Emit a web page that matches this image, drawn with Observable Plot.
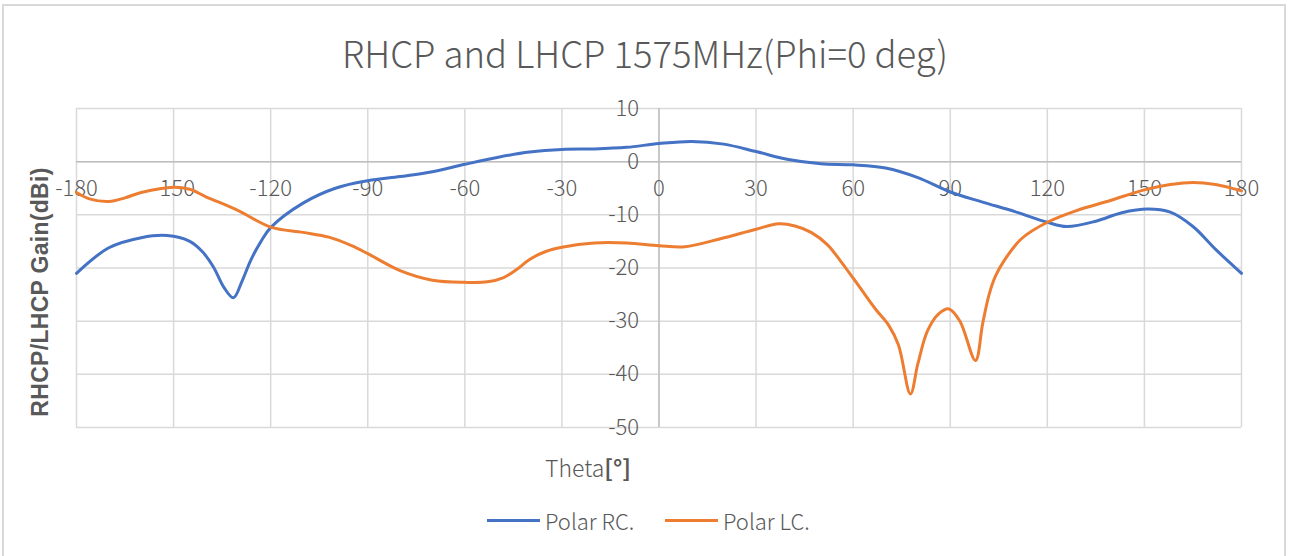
<!DOCTYPE html>
<html>
<head>
<meta charset="utf-8">
<script src="https://cdn.jsdelivr.net/npm/d3@7"></script>
<script src="https://cdn.jsdelivr.net/npm/@observablehq/plot@0.6"></script>
<style>
  html, body { margin: 0; padding: 0; background: #fff; }
  #wrap { position: relative; width: 1290px; height: 556px; overflow: hidden; font-family: "Noto Sans CJK SC", "Noto Sans", sans-serif; color: #595959; }
  #border { position: absolute; left: 2px; top: 4px; width: 1284px; height: 600px; border: 2px solid #d9d9d9; box-sizing: border-box; }
  #chart { position: absolute; left: 0; top: 0; }
  .abs { position: absolute; white-space: nowrap; }
  #title { left: 0; width: 1290px; top: 26px; text-align: center; font-size: 36.5px; font-weight: 300; }
  #ylab { left: 40px; top: 292px; font-family: "Liberation Sans", Arial, sans-serif; font-weight: bold; font-size: 23px; letter-spacing: 0.3px; transform: translate(-50%, -50%) rotate(-90deg); }
  #xlab { left: 588px; top: 467px; font-size: 23px; font-weight: 300; transform: translate(-50%, -50%); }
  #xlab b { font-weight: bold; }
  .leg { top: 504px; font-size: 22px; font-weight: 300; display: flex; align-items: center; }
  .sw { display: inline-block; width: 53px; height: 3px; margin-right: 5px; }
</style>
</head>
<body>
<div id="wrap">
  <div id="border"></div>
  <div id="chart"></div>
  <div class="abs" id="title">RHCP and LHCP 1575MHz(Phi=0 deg)</div>
  <div class="abs" id="ylab">RHCP/LHCP Gain(dBi)</div>
  <div class="abs" id="xlab">Theta<b>[°]</b></div>
  <div class="abs leg" id="leg1" style="left:487px"><span class="sw" style="background:#4472C4"></span>Polar RC.</div>
  <div class="abs leg" id="leg2" style="left:665px"><span class="sw" style="background:#ED7D31"></span>Polar LC.</div>
</div>
<script>
// Data
const xTicks = [-180, -150, -120, -90, -60, -30, 0, 30, 60, 90, 120, 150, 180];
const yTicks = [10, 0, -10, -20, -30, -40, -50];

const rcTheta = [-180, -170, -160, -152, -145, -141, -137.6, -134.5, -131.5, -128.8, -126.2, -123, -120, -110, -100, -90, -80, -70, -60, -50, -40, -30, -20, -10, 0, 10, 20, 30, 40, 50, 60, 70, 80, 90, 100, 110, 120, 126, 135, 143, 151, 158, 165, 172, 180];
const rcGain  = [-21, -16.2, -14.3, -13.9, -15.0, -17.0, -19.9, -23.6, -25.6, -22.4, -18.6, -15.0, -12.4, -7.8, -5.0, -3.6, -2.8, -1.9, -0.5, 0.8, 1.8, 2.3, 2.4, 2.7, 3.4, 3.8, 3.3, 1.9, 0.4, -0.4, -0.6, -1.2, -3.0, -5.7, -7.6, -9.4, -11.4, -12.2, -11.2, -9.6, -8.9, -9.5, -12.2, -16.5, -21];

const lcTheta = [-180, -176, -170, -165, -160, -150, -145, -140, -130, -120, -110, -102, -95, -90, -80, -70, -60, -53, -48, -44, -40, -35, -30, -20, -10, 0, 8, 19, 30, 37, 42, 47, 52, 56, 62, 67, 71, 74, 77.7, 80, 83, 86.5, 89.6, 93, 97.8, 100, 102, 104, 107, 112, 120, 129, 139.5, 150, 158, 165, 172, 180];
const lcGain  = [-5.8, -7.0, -7.5, -6.8, -5.8, -4.8, -5.2, -6.6, -9.2, -12.3, -13.3, -14.2, -15.8, -17.3, -20.5, -22.3, -22.7, -22.6, -21.8, -20.3, -18.4, -16.9, -16.1, -15.3, -15.3, -15.8, -16.0, -14.5, -12.7, -11.7, -12.1, -13.3, -15.6, -18.6, -23.6, -27.8, -30.8, -34.5, -43.7, -38.0, -31.8, -28.6, -27.7, -30.0, -37.4, -30.5, -25.0, -21.5, -18.3, -14.5, -11.4, -9.2, -7.3, -5.3, -4.3, -3.9, -4.3, -5.5];

const rc = rcTheta.map((t, i) => ({theta: t, gain: rcGain[i]}));
const lc = lcTheta.map((t, i) => ({theta: t, gain: lcGain[i]}));

const gridColor = "#d9d9d9";
const textColor = "#595959";

const chart = Plot.plot({
  width: 1290,
  height: 556,
  marginLeft: 76,
  marginRight: 49,
  marginTop: 108,
  marginBottom: 129,
  x: {domain: [-180, 180], axis: null},
  y: {domain: [-50, 10], axis: null},
  style: {background: "transparent", fontFamily: "'Noto Sans CJK SC', 'Noto Sans', sans-serif"},
  marks: [
    Plot.gridX(xTicks, {stroke: gridColor, strokeOpacity: 1, strokeWidth: 1.5}),
    Plot.gridY(yTicks, {stroke: gridColor, strokeOpacity: 1, strokeWidth: 1.5}),
    Plot.ruleX([0], {stroke: "#bfbfbf", strokeWidth: 1.5}),
    Plot.ruleY([0], {stroke: "#bfbfbf", strokeWidth: 1.5}),
    Plot.text(xTicks, {x: d => d, y: 0, dy: 27, text: d => String(d), fill: textColor, fontSize: 22, fontWeight: 300}),
    Plot.text(yTicks, {x: 0, y: d => d, dx: -20, textAnchor: "end", text: d => String(d), fill: textColor, fontSize: 22, fontWeight: 300}),
    Plot.line(rc, {x: "theta", y: "gain", stroke: "#4472C4", strokeWidth: 3, curve: "catmull-rom"}),
    Plot.line(lc, {x: "theta", y: "gain", stroke: "#ED7D31", strokeWidth: 3, curve: "catmull-rom"})
  ]
});
document.getElementById("chart").appendChild(chart);
</script>
</body>
</html>
